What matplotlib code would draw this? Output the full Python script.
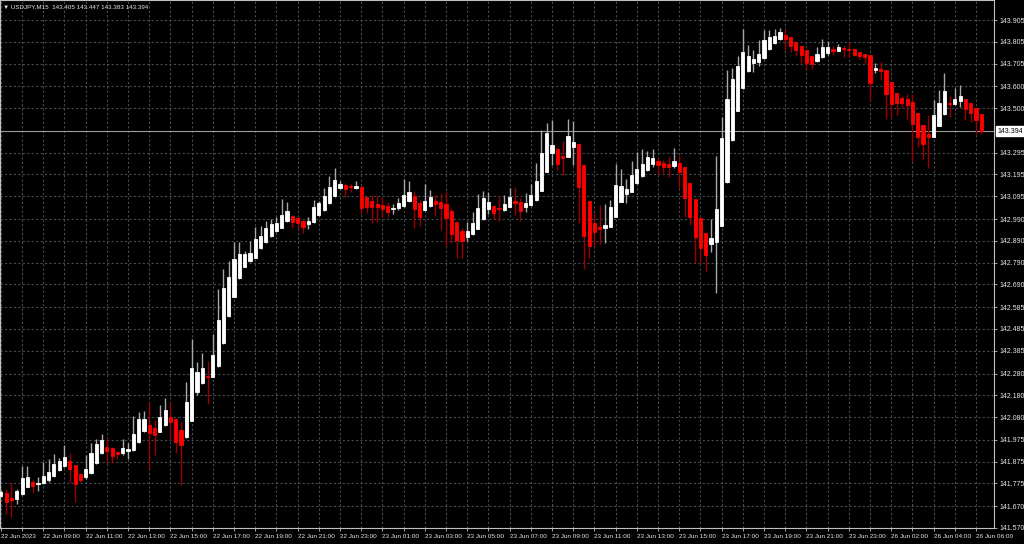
import matplotlib
matplotlib.use("Agg")
import matplotlib.pyplot as plt

symbol = "USDJPY,M15"
header_ohlc = ["143.405", "143.447", "143.383", "143.394"]
last_price = 143.394

opens = [141.719, 141.730, 141.710, 141.705, 141.725, 141.760, 141.783, 141.773, 141.776, 141.791,
         141.809, 141.837, 141.855, 141.878, 141.859, 141.817, 141.803, 141.822, 141.868, 141.914,
         141.944, 141.937, 141.921, 141.917, 141.926, 141.929, 141.964, 142.016, 142.044, 142.029,
         142.013, 142.044, 142.079, 142.070, 142.021, 141.986, 142.064, 142.195, 142.235, 142.270,
         142.265, 142.315, 142.419, 142.545, 142.633, 142.718, 142.771, 142.797, 142.813, 142.856,
         142.883, 142.912, 142.937, 142.951, 142.981, 143.006, 142.994, 142.983, 142.966, 142.976,
         143.009, 143.032, 143.063, 143.098, 143.132, 143.147, 143.142, 143.134, 143.139, 143.090,
         143.075, 143.059, 143.056, 143.050, 143.035, 143.040, 143.050, 143.073, 143.096, 143.066,
         143.032, 143.050, 143.075, 143.070, 143.059, 143.029, 142.978, 142.937, 142.909, 142.922,
         142.945, 142.990, 143.036, 143.052, 143.040, 143.032, 143.047, 143.075, 143.067, 143.044,
         143.055, 143.078, 143.121, 143.208, 143.295, 143.311, 143.280, 143.277, 143.323, 143.335,
         143.239, 143.075, 142.971, 142.955, 142.948, 142.955, 143.001, 143.070, 143.105, 143.116,
         143.155, 143.188, 143.216, 143.243, 143.257, 143.246, 143.243, 143.234, 143.246, 143.228,
         143.155, 143.081, 142.994, 142.925, 142.876, 142.886, 142.960, 143.159, 143.354, 143.488,
         143.591, 143.672, 143.706, 143.711, 143.729, 143.770, 143.798, 143.816, 143.836, 143.826,
         143.803, 143.786, 143.767, 143.740, 143.717, 143.734, 143.752, 143.770, 143.764, 143.776,
         143.773, 143.772, 143.759, 143.750, 143.744, 143.675, 143.680, 143.675, 143.621, 143.568,
         143.548, 143.541, 143.530, 143.479, 143.422, 143.380, 143.369, 143.419, 143.472, 143.525,
         143.519, 143.531, 143.542, 143.522, 143.502, 143.473]
highs = [141.745, 141.750, 141.776, 141.750, 141.855, 141.855, 141.791, 141.806, 141.874, 141.888,
         141.909, 141.891, 141.951, 141.917, 141.859, 141.825, 141.906, 141.963, 141.978, 142.001,
         141.983, 141.944, 141.923, 141.980, 141.960, 142.085, 142.101, 142.108, 142.151, 142.067,
         142.135, 142.167, 142.147, 142.070, 142.059, 142.243, 142.439, 142.332, 142.374, 142.339,
         142.462, 142.667, 142.759, 142.797, 142.883, 142.886, 142.845, 142.891, 142.952, 142.958,
         142.981, 142.989, 143.001, 143.081, 143.070, 143.009, 143.001, 142.986, 142.998, 143.078,
         143.075, 143.132, 143.190, 143.224, 143.167, 143.157, 143.151, 143.165, 143.142, 143.090,
         143.101, 143.101, 143.093, 143.070, 143.058, 143.086, 143.174, 143.165, 143.119, 143.078,
         143.151, 143.124, 143.101, 143.111, 143.119, 143.040, 142.978, 142.948, 142.978, 143.024,
         143.104, 143.121, 143.116, 143.055, 143.096, 143.101, 143.132, 143.139, 143.086, 143.111,
         143.151, 143.246, 143.400, 143.433, 143.445, 143.320, 143.349, 143.449, 143.442, 143.338,
         143.239, 143.075, 143.019, 143.055, 143.059, 143.078, 143.243, 143.219, 143.173, 143.257,
         143.300, 143.312, 143.303, 143.311, 143.277, 143.262, 143.280, 143.315, 143.285, 143.228,
         143.155, 143.081, 142.994, 142.925, 142.990, 143.280, 143.461, 143.675, 143.686, 143.740,
         143.864, 143.790, 143.767, 143.813, 143.859, 143.859, 143.862, 143.867, 143.862, 143.826,
         143.803, 143.786, 143.767, 143.740, 143.780, 143.818, 143.810, 143.787, 143.795, 143.790,
         143.805, 143.772, 143.759, 143.750, 143.744, 143.706, 143.711, 143.675, 143.621, 143.568,
         143.556, 143.564, 143.564, 143.479, 143.422, 143.468, 143.537, 143.583, 143.660, 143.557,
         143.591, 143.606, 143.542, 143.522, 143.502, 143.473]
lows = [141.714, 141.633, 141.619, 141.682, 141.721, 141.759, 141.730, 141.742, 141.773, 141.780,
        141.806, 141.834, 141.852, 141.776, 141.690, 141.783, 141.794, 141.819, 141.865, 141.911,
        141.865, 141.868, 141.886, 141.907, 141.886, 141.923, 141.963, 142.013, 141.840, 141.906,
        142.010, 142.039, 141.975, 141.917, 141.767, 141.983, 142.061, 142.182, 142.232, 142.140,
        142.264, 142.312, 142.416, 142.542, 142.631, 142.715, 142.769, 142.794, 142.810, 142.851,
        142.879, 142.909, 142.932, 142.948, 142.978, 142.948, 142.948, 142.928, 142.945, 142.972,
        143.006, 143.029, 143.059, 143.093, 143.128, 143.090, 143.116, 143.127, 143.012, 143.017,
        142.974, 142.978, 143.001, 143.001, 143.012, 143.032, 143.047, 143.070, 142.948, 142.958,
        143.029, 143.047, 143.004, 142.940, 142.866, 142.879, 142.813, 142.810, 142.891, 142.919,
        142.943, 142.986, 143.012, 142.989, 142.983, 143.029, 143.044, 143.007, 142.981, 143.024,
        143.052, 143.075, 143.119, 143.205, 143.239, 143.216, 143.193, 143.274, 143.239, 142.971,
        142.759, 142.813, 142.866, 142.876, 142.879, 142.952, 142.998, 143.067, 143.063, 143.113,
        143.151, 143.185, 143.212, 143.231, 143.193, 143.203, 143.182, 143.223, 143.132, 143.001,
        142.963, 142.790, 142.784, 142.753, 142.837, 142.649, 142.957, 143.156, 143.350, 143.485,
        143.588, 143.668, 143.668, 143.695, 143.726, 143.767, 143.795, 143.813, 143.767, 143.759,
        143.741, 143.709, 143.678, 143.680, 143.713, 143.730, 143.744, 143.744, 143.761, 143.736,
        143.734, 143.741, 143.724, 143.706, 143.534, 143.660, 143.629, 143.449, 143.461, 143.468,
        143.499, 143.449, 143.254, 143.323, 143.266, 143.223, 143.366, 143.416, 143.468, 143.458,
        143.514, 143.504, 143.445, 143.435, 143.380, 143.383]
closes = [141.737, 141.691, 141.700, 141.742, 141.799, 141.806, 141.764, 141.778, 141.809, 141.829,
          141.865, 141.878, 141.898, 141.842, 141.773, 141.791, 141.840, 141.914, 141.957, 141.975,
          141.924, 141.903, 141.912, 141.940, 141.935, 142.001, 142.073, 142.072, 142.006, 141.998,
          142.082, 142.113, 142.055, 141.967, 141.952, 142.147, 142.304, 142.285, 142.304, 142.265,
          142.365, 142.526, 142.672, 142.725, 142.807, 142.828, 142.828, 142.836, 142.899, 142.912,
          142.951, 142.968, 142.974, 143.009, 143.027, 142.976, 142.971, 142.952, 142.983, 143.044,
          143.063, 143.096, 143.139, 143.170, 143.151, 143.128, 143.138, 143.143, 143.040, 143.047,
          143.047, 143.047, 143.035, 143.024, 143.042, 143.066, 143.101, 143.116, 143.035, 143.001,
          143.075, 143.093, 143.059, 143.042, 142.996, 142.922, 142.894, 142.889, 142.935, 142.974,
          143.040, 143.086, 143.069, 143.019, 143.035, 143.058, 143.093, 143.063, 143.027, 143.066,
          143.101, 143.167, 143.295, 143.387, 143.331, 143.243, 143.272, 143.372, 143.346, 143.139,
          142.912, 142.866, 142.932, 142.945, 142.963, 143.044, 143.147, 143.143, 143.127, 143.193,
          143.220, 143.242, 143.277, 143.269, 143.239, 143.231, 143.231, 143.258, 143.208, 143.086,
          143.001, 142.909, 142.856, 142.825, 142.902, 143.035, 143.364, 143.542, 143.633, 143.694,
          143.757, 143.740, 143.725, 143.749, 143.813, 143.826, 143.833, 143.851, 143.816, 143.786,
          143.767, 143.744, 143.706, 143.703, 143.749, 143.782, 143.780, 143.764, 143.782, 143.770,
          143.767, 143.744, 143.741, 143.734, 143.614, 143.683, 143.671, 143.565, 143.518, 143.522,
          143.525, 143.514, 143.427, 143.366, 143.335, 143.366, 143.468, 143.525, 143.579, 143.518,
          143.541, 143.557, 143.496, 143.476, 143.445, 143.394]

# time labels every 8 bars (2 hours of M15)
time_labels = ["22 Jun 2023", "22 Jun 09:00", "22 Jun 11:00", "22 Jun 13:00", "22 Jun 15:00",
               "22 Jun 17:00", "22 Jun 19:00", "22 Jun 21:00", "22 Jun 23:00", "23 Jun 01:00",
               "23 Jun 03:00", "23 Jun 05:00", "23 Jun 07:00", "23 Jun 09:00", "23 Jun 11:00",
               "23 Jun 13:00", "23 Jun 15:00", "23 Jun 17:00", "23 Jun 19:00", "23 Jun 21:00",
               "23 Jun 23:00", "26 Jun 02:00", "26 Jun 04:00", "26 Jun 06:00"]
price_labels = ["141.570", "141.670", "141.775", "141.875", "141.975", "142.080", "142.180",
                "142.280", "142.385", "142.485", "142.585", "142.690", "142.790", "142.890",
                "142.990", "143.095", "143.195", "143.295", "143.500", "143.600", "143.705",
                "143.805", "143.905"]

bg = "black"
grid_col = "#434d58"
fg = "#e8e8e8"

fig = plt.figure(figsize=(10.24, 5.44), dpi=100, facecolor=bg)
ax = fig.add_axes([0, 1 - 528 / 544, 993.5 / 1024, 528 / 544])
ax.set_facecolor(bg)

n = len(closes)
idx = list(range(n))
up = [c >= o for o, c in zip(opens, closes)]

wick_cols = ["#a8a8a8" if u else "#9a0000" for u in up]
body_cols = ["white" if u else "#ff0000" for u in up]
ax.vlines(idx, lows, highs, colors=wick_cols, linewidth=1.0, zorder=3)
heights = [abs(c - o) for o, c in zip(opens, closes)]
bottoms = [min(o, c) for o, c in zip(opens, closes)]
ax.bar(idx, heights, bottom=bottoms, width=0.6, color=body_cols,
       edgecolor=body_cols, linewidth=0.6, zorder=4)

ax.set_xlim(-0.17, 187.3)
ax.set_ylim(141.570, 143.997)

ax.set_xticks(range(0, 8 * len(time_labels), 8))
ax.set_xticklabels(time_labels, ha="left", fontsize=4.6, color=fg, family="Liberation Sans")
ax.set_xticks(range(0, 188, 4), minor=True)
ax.set_yticks([float(p) for p in price_labels])
ax.set_yticklabels(price_labels, fontsize=5, color=fg, family="Liberation Sans")
ax.yaxis.tick_right()
ax.tick_params(axis="x", which="both", length=2, width=0.6, color="#c0c0c0", pad=2)
ax.tick_params(axis="y", length=2.5, width=0.6, color="#c0c0c0", pad=1.5)

ax.grid(True, axis="x", which="both", color=grid_col, linestyle=(0, (2, 2)), linewidth=0.8)
ax.grid(True, axis="y", color=grid_col, linestyle=(0, (2, 2)), linewidth=0.8)
ax.set_axisbelow(True)

for s in ax.spines.values():
    s.set_color("#c0c0c0")
    s.set_linewidth(0.8)

ax.axhline(last_price, color="#9a9a9a", linewidth=0.8, zorder=2)
ax.text(1.004, last_price, f"{last_price:.3f}", transform=ax.get_yaxis_transform(),
        ha="left", va="center", fontsize=5, color="black", family="Liberation Sans",
        bbox=dict(boxstyle="square,pad=0.18", fc="white", ec="white"), clip_on=False)

ax.text(0.003, 0.992, "\u25bc " + symbol + "  " + " ".join(header_ohlc), transform=ax.transAxes,
        ha="left", va="top", fontsize=4.5, color=fg, family=["Liberation Sans", "DejaVu Sans"])

fig.savefig("out.png", dpi=100, facecolor=bg)
